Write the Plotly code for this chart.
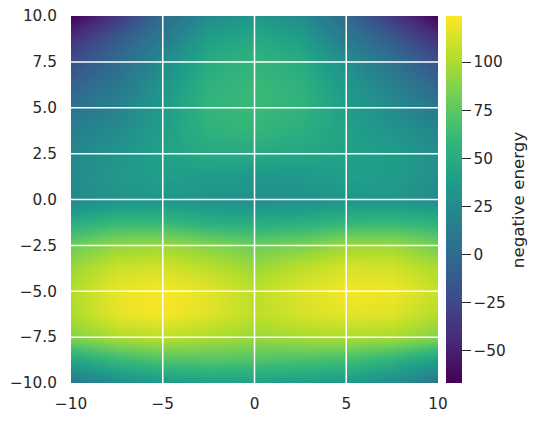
import plotly.graph_objects as go

# grid (value of "negative energy" at each node)
x_vals = [-10, -7.5, -5, -2.5, 0, 2.5, 5, 7.5, 10]
y_vals = [-10, -8.75, -7.5, -6.25, -5, -3.75, -2.5, -1.25, 0,
          1.25, 2.5, 3.75, 5, 6.25, 7.5, 8.75, 10]

z_vals = [
    [10, 25, 35, 40, 40, 38, 35, 25, 8],            # y=-10
    [45, 60, 70, 72, 70, 68, 65, 55, 40],           # y=-8.75
    [88, 100, 105, 100, 95, 98, 100, 98, 88],       # y=-7.5
    [100, 117, 122, 115, 105, 112, 117, 115, 102],  # y=-6.25
    [102, 118, 123, 116, 105, 115, 121, 120, 108],  # y=-5
    [95, 110, 112, 105, 95, 105, 113, 112, 100],    # y=-3.75
    [80, 92, 95, 88, 80, 85, 95, 95, 82],           # y=-2.5
    [50, 60, 60, 52, 50, 52, 58, 60, 55],           # y=-1.25
    [22, 30, 33, 30, 27, 28, 32, 33, 25],           # y=0
    [25, 35, 40, 38, 35, 35, 40, 38, 28],           # y=1.25
    [22, 32, 42, 48, 48, 45, 42, 38, 28],           # y=2.5
    [15, 25, 40, 55, 58, 52, 42, 32, 20],           # y=3.75
    [5, 18, 37, 58, 63, 57, 40, 25, 10],            # y=5
    [-8, 10, 32, 55, 62, 55, 35, 16, -5],           # y=6.25
    [-20, 0, 25, 50, 57, 50, 28, 5, -18],           # y=7.5
    [-40, -12, 12, 40, 48, 40, 12, -12, -40],       # y=8.75
    [-66, -35, 0, 25, 35, 25, 0, -35, -66],         # y=10
]

x_ticks = [-10, -5, 0, 5, 10]
y_ticks = [-10, -7.5, -5, -2.5, 0, 2.5, 5, 7.5, 10]
cbar_ticks = [-50, -25, 0, 25, 50, 75, 100]

font = "DejaVu Sans"
txt = "#262626"

fig = go.Figure()
fig.add_trace(go.Heatmap(
    x=x_vals, y=y_vals, z=z_vals,
    zsmooth="best",
    colorscale="Viridis",
    zmin=-67, zmax=124,
    colorbar=dict(
        x=1.021, xanchor="left", xpad=0,
        y=0.5, yanchor="middle", len=1, lenmode="fraction", ypad=0,
        thickness=16, outlinewidth=0,
        tickvals=cbar_ticks, tickprefix="\u00a0",
        ticks="outside", ticklen=9, tickwidth=1.3, tickcolor=txt,
        tickfont=dict(family=font, size=15.3, color=txt),
    ),
))

# white grid on top of the image, seaborn style
for v in x_ticks[1:-1]:
    fig.add_vline(x=v, line=dict(color="white", width=1.5), layer="above")
for v in y_ticks[1:-1]:
    fig.add_hline(y=v, line=dict(color="white", width=1.5), layer="above")

# colorbar label
fig.add_annotation(text="negative energy", xref="paper", yref="paper",
                   x=1.217, y=0.5, xanchor="center", yanchor="middle",
                   textangle=-90, showarrow=False,
                   font=dict(family=font, size=16.7, color=txt))

# page body has an 8px margin, so the figure is 8px smaller and offset
fig.update_layout(
    width=531, height=415,
    margin=dict(l=63, r=101, t=8, b=40, autoexpand=False),
    paper_bgcolor="white", plot_bgcolor="#eaeaf2",
    font=dict(family=font, size=15.3, color=txt),
)
fig.update_xaxes(range=[-10, 10], tickvals=x_ticks, showgrid=False, zeroline=False,
                 automargin=False, ticks="outside", ticklen=7, ticklabeloverflow="allow",
                 tickcolor="rgba(0,0,0,0)", showline=False)
fig.update_yaxes(range=[-10, 10], tickvals=y_ticks, tickformat=".1f", showgrid=False,
                 zeroline=False, automargin=False, ticks="outside", ticklen=10,
                 ticklabeloverflow="allow",
                 tickcolor="rgba(0,0,0,0)", showline=False)

fig.write_html("out.html")
